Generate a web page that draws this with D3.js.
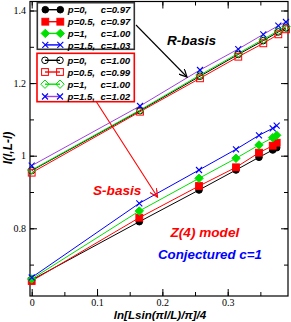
<!DOCTYPE html>
<html><head><meta charset="utf-8">
<script src="https://cdn.jsdelivr.net/npm/d3@7"></script>
<style>body{margin:0;background:#fff}svg{display:block}</style>
</head><body>
<svg id="c" width="291" height="322"></svg>
<script>
// ---- data ----
const xUpper = [0, 0.1658, 0.2576, 0.3162, 0.3545, 0.3775, 0.3892];
const upperP0 = [0.959, 1.124, 1.219, 1.279, 1.317, 1.341, 1.352];
const upperP05 = [0.9532, 1.1212, 1.2132, 1.2727, 1.3096, 1.3344, 1.3482];
const upperP1 = [0.9606, 1.1259, 1.2223, 1.2821, 1.3207, 1.3444, 1.3554];
const upperP15 = [0.9725, 1.1369, 1.2361, 1.2939, 1.3344, 1.3581, 1.3683];

const xLower = [0, 0.1647, 0.2561, 0.3127, 0.3479, 0.3689, 0.375];
const lowerP0 = [0.6576, 0.8182, 0.9055, 0.9606, 0.9956, 1.0157, 1.0220];
const lowerP05 = [0.6548, 0.8292, 0.9165, 0.9680, 1.0083, 1.0275, 1.0358];
const lowerP1 = [0.6603, 0.8477, 0.9377, 0.9928, 1.0295, 1.0496, 1.0562];
const lowerP15 = [0.6645, 0.8689, 0.9606, 1.0176, 1.0562, 1.0755, 1.0826];

const pLabels = ["p=0,", "p=0.5,", "p=1,", "p=1.5,"];
const cFilled = ["c=0.97", "c=0.97", "c=1.00", "c=1.03"];
const cOpen = ["c=1.00", "c=0.99", "c=1.00", "c=1.02"];

const xTicks = [0, 0.1, 0.2, 0.3];
const yTicks = [0.8, 1, 1.2, 1.4];

// ---- setup ----
const svg = d3.select("#c");
const L = 30, R = 288, T = 1.5, B = 296;
const x = d3.scaleLinear().domain([-0.0026, 0.3923]).range([L, R]);
const y = d3.scaleLinear().domain([0.6135, 1.4248]).range([B, T]);
const sans = "'Liberation Sans', Arial, sans-serif";
const serif = "'Liberation Serif', 'Times New Roman', serif";

const colors = ["#000000", "#ff0000", "#00e000", "#0000ff"];
const shapes = ["circle", "square", "diamond", "x"];

function marker(g, shape, cx, cy, color, filled) {
  const sw = 1;
  if (shape === "circle") {
    g.append("circle").attr("cx", cx).attr("cy", cy).attr("r", 3.3)
      .attr("fill", filled ? color : "none").attr("stroke", color).attr("stroke-width", sw);
  } else if (shape === "square") {
    g.append("rect").attr("x", cx - 3.4).attr("y", cy - 3.4).attr("width", 6.8).attr("height", 6.8)
      .attr("fill", filled ? color : "none").attr("stroke", color).attr("stroke-width", sw);
  } else if (shape === "diamond") {
    const d = 4.2;
    g.append("path").attr("d", `M${cx},${cy - d}L${cx + d},${cy}L${cx},${cy + d}L${cx - d},${cy}Z`)
      .attr("fill", filled ? color : "none").attr("stroke", color).attr("stroke-width", sw);
  } else {
    const d = 3;
    g.append("path").attr("d", `M${cx - d},${cy - d}L${cx + d},${cy + d}M${cx - d},${cy + d}L${cx + d},${cy - d}`)
      .attr("stroke", color).attr("stroke-width", 1.1).attr("fill", "none");
  }
}

// ---- axes ----
const frame = svg.append("g");
const xMinor = d3.range(0, 0.40, 0.05);
const yMinor = d3.range(0.7, 1.45, 0.1);
// bottom
frame.append("g").attr("transform", `translate(0,${B})`)
  .call(d3.axisBottom(x).tickValues(xMinor).tickSize(-4).tickFormat(""))
  .call(g => g.select(".domain").remove());
frame.append("g").attr("transform", `translate(0,${B})`)
  .call(d3.axisBottom(x).tickValues(xTicks).tickSize(-7).tickPadding(3).tickFormat(d3.format("")))
  .call(g => g.select(".domain").remove())
  .call(g => g.selectAll("text").attr("font-family", serif).attr("font-size", 10).attr("fill", "#000"));
// top
frame.append("g").attr("transform", `translate(0,${T})`)
  .call(d3.axisTop(x).tickValues(xMinor).tickSize(-4).tickFormat(""))
  .call(g => g.select(".domain").remove());
frame.append("g").attr("transform", `translate(0,${T})`)
  .call(d3.axisTop(x).tickValues(xTicks).tickSize(-7).tickFormat(""))
  .call(g => g.select(".domain").remove());
// left
frame.append("g").attr("transform", `translate(${L},0)`)
  .call(d3.axisLeft(y).tickValues(yMinor.filter(v => v > 0.62 && v < 1.42)).tickSize(-4).tickFormat(""))
  .call(g => g.select(".domain").remove());
frame.append("g").attr("transform", `translate(${L},0)`)
  .call(d3.axisLeft(y).tickValues(yTicks).tickSize(-7).tickPadding(4).tickFormat(d3.format("")))
  .call(g => g.select(".domain").remove())
  .call(g => g.selectAll("text").attr("font-family", serif).attr("font-size", 10).attr("fill", "#000"));
// right
frame.append("g").attr("transform", `translate(${R},0)`)
  .call(d3.axisRight(y).tickValues(yMinor.filter(v => v > 0.62 && v < 1.42)).tickSize(-4).tickFormat(""))
  .call(g => g.select(".domain").remove());
frame.append("g").attr("transform", `translate(${R},0)`)
  .call(d3.axisRight(y).tickValues(yTicks).tickSize(-7).tickFormat(""))
  .call(g => g.select(".domain").remove());
frame.selectAll(".tick line").attr("stroke", "#000");
frame.append("rect").attr("x", L).attr("y", T).attr("width", R - L).attr("height", B - T)
  .attr("fill", "none").attr("stroke", "#000").attr("stroke-width", 1.2);

// ---- series ----
const line = d3.line().x(d => x(d[0])).y(d => y(d[1]));
const plot = svg.append("g");
const upper = [upperP0, upperP05, upperP1, upperP15];
const lower = [lowerP0, lowerP05, lowerP1, lowerP15];
const upperLineColors = ["#000000", "#ff0000", "#00e000", "#a040e0"];

upper.forEach((vals, i) => {
  const pts = xUpper.map((xv, j) => [xv, vals[j]]);
  plot.append("path").attr("d", line(pts)).attr("fill", "none")
    .attr("stroke", upperLineColors[i]).attr("stroke-width", 1);
});
lower.forEach((vals, i) => {
  const pts = xLower.map((xv, j) => [xv, vals[j]]);
  plot.append("path").attr("d", line(pts)).attr("fill", "none")
    .attr("stroke", colors[i]).attr("stroke-width", 1);
});
upper.forEach((vals, i) => {
  xUpper.forEach((xv, j) => marker(plot, shapes[i], x(xv), y(vals[j]), colors[i], false));
});
lower.forEach((vals, i) => {
  xLower.forEach((xv, j) => marker(plot, shapes[i], x(xv), y(vals[j]), colors[i], true));
});

// ---- legends ----
function legend(x0, y0, w, h, border, rowsY, filled, cTexts, lineColors) {
  const g = svg.append("g");
  g.append("rect").attr("x", x0).attr("y", y0).attr("width", w).attr("height", h)
    .attr("fill", "#fff").attr("stroke", border).attr("stroke-width", 1.6);
  rowsY.forEach((ry, i) => {
    g.append("line").attr("x1", x0 + 8).attr("x2", x0 + 23).attr("y1", ry).attr("y2", ry)
      .attr("stroke", lineColors[i]).attr("stroke-width", 1.4);
    marker(g, shapes[i], x0 + 8, ry, colors[i], filled);
    marker(g, shapes[i], x0 + 23, ry, colors[i], filled);
    g.append("text").attr("x", x0 + 30.5).attr("y", ry + 3.6).text(pLabels[i])
      .attr("font-family", sans).attr("font-weight", "bold").attr("font-style", "italic").attr("font-size", 9.6);
    g.append("text").attr("x", x0 + 63.5).attr("y", ry + 3.6).text(cTexts[i])
      .attr("font-family", sans).attr("font-weight", "bold").attr("font-style", "italic").attr("font-size", 9.6);
  });
}
legend(37.3, 2.7, 97, 46.6, "#333", [10, 22, 33.7, 45.2].map(v => v - 0.3), true, cFilled, colors);
legend(37, 53.3, 97.3, 48.4, "#ff0000", [60.3, 72, 84.2, 96.5], false, cOpen, ["#000000", "#ff0000", "#00e000", "#a040e0"]);

// ---- arrows & annotations ----
svg.append("defs").html(
  '<marker id="ab" markerWidth="9" markerHeight="8" refX="8" refY="4" orient="auto" markerUnits="userSpaceOnUse"><path d="M0,0L8,4L0,8" fill="none" stroke="#000" stroke-width="1.2"/></marker>' +
  '<marker id="ar" markerWidth="9" markerHeight="8" refX="8" refY="4" orient="auto" markerUnits="userSpaceOnUse"><path d="M0,0L8,4L0,8" fill="none" stroke="#ff0000" stroke-width="1.2"/></marker>');
svg.append("line").attr("x1", 136).attr("y1", 25).attr("x2", 187).attr("y2", 77)
  .attr("stroke", "#000").attr("stroke-width", 1.1).attr("marker-end", "url(#ab)");
svg.append("line").attr("x1", 96.5).attr("y1", 102).attr("x2", 157.5).attr("y2", 197)
  .attr("stroke", "#ff0000").attr("stroke-width", 1.1).attr("marker-end", "url(#ar)");

function label(txt, xx, yy, color, size) {
  svg.append("text").attr("x", xx).attr("y", yy).text(txt).attr("fill", color)
    .attr("font-family", sans).attr("font-weight", "bold").attr("font-style", "italic").attr("font-size", size);
}
label("R-basis", 167, 44.5, "#000", 13.6);
label("S-basis", 93, 195, "#ff0000", 13.6);
label("Z(4) model", 170.5, 236.5, "#ff0000", 13.6);
label("Conjectured c=1", 158, 258.5, "#0000ff", 13.3);

// axis titles
svg.append("text").attr("transform", "translate(12,148) rotate(-90)")
  .attr("text-anchor", "middle").attr("font-family", sans).attr("font-weight", "bold")
  .attr("font-style", "italic").attr("font-size", 12).text("I(l,L-l)");
svg.append("text").attr("x", 160).attr("y", 319).attr("text-anchor", "middle")
  .attr("font-family", sans).attr("font-weight", "bold").attr("font-style", "italic").attr("font-size", 11.6)
  .text("ln[Lsin(πl/L)/π]/4");
</script>
</body></html>
